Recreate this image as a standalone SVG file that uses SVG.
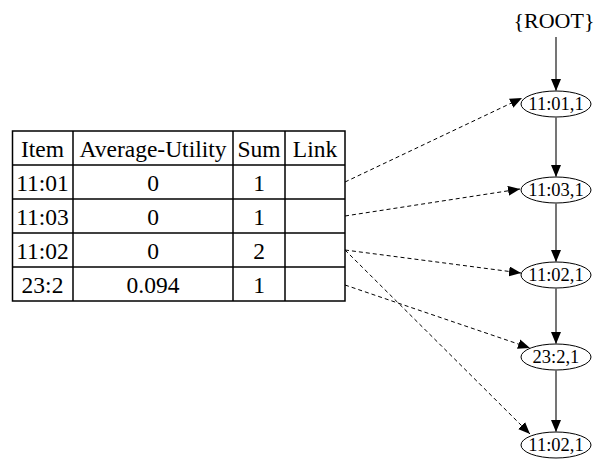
<svg xmlns="http://www.w3.org/2000/svg" width="596" height="461" viewBox="0 0 596 461">
<style>
text{font-family:"Liberation Serif","Times New Roman",serif;fill:#000;text-anchor:middle}
.t{font-size:23.5px}
.n{font-size:18.5px}
.r{font-size:22px}
.node{fill:#fff;stroke:#000;stroke-width:1}
.tree{stroke:#666;stroke-width:1.8;fill:none}
.link{stroke:#000;stroke-width:1;stroke-dasharray:4,3;fill:none}
</style>
<defs>
<marker id="ah" markerWidth="12" markerHeight="10" refX="12" refY="5" orient="auto" markerUnits="userSpaceOnUse">
<path d="M0,0 L12,5 L0,10 Z" fill="#000"/>
</marker>
</defs>
<g id="table">
<rect x="12.5" y="131" width="332.5" height="170" fill="#fff" stroke="#000" stroke-width="1.5"/>
<g stroke="#000" stroke-width="1.5">
<line x1="12.5" y1="165" x2="345" y2="165"/>
<line x1="12.5" y1="199" x2="345" y2="199"/>
<line x1="12.5" y1="233" x2="345" y2="233"/>
<line x1="12.5" y1="267" x2="345" y2="267"/>
<line x1="73" y1="131" x2="73" y2="301"/>
<line x1="233" y1="131" x2="233" y2="301"/>
<line x1="285" y1="131" x2="285" y2="301"/>
</g>
<text class="t" x="42.5" y="157">Item</text>
<text class="t" x="153" y="157">Average-Utility</text>
<text class="t" x="259" y="157">Sum</text>
<text class="t" x="315" y="157">Link</text>
<text class="t" x="42.5" y="191">11:01</text>
<text class="t" x="153" y="191">0</text>
<text class="t" x="259" y="191">1</text>
<text class="t" x="42.5" y="225">11:03</text>
<text class="t" x="153" y="225">0</text>
<text class="t" x="259" y="225">1</text>
<text class="t" x="42.5" y="259">11:02</text>
<text class="t" x="153" y="259">0</text>
<text class="t" x="259" y="259">2</text>
<text class="t" x="42.5" y="293">23:2</text>
<text class="t" x="153" y="293">0.094</text>
<text class="t" x="259" y="293">1</text>
</g>
<g id="root"><text class="r" x="554" y="28">{ROOT}</text></g>
<g id="n1"><ellipse class="node" cx="556" cy="104" rx="35" ry="13"/><text class="n" x="556" y="110">11:01,1</text></g>
<g id="n2"><ellipse class="node" cx="556" cy="190" rx="35" ry="13"/><text class="n" x="556" y="196">11:03,1</text></g>
<g id="n3"><ellipse class="node" cx="556" cy="275" rx="35" ry="13"/><text class="n" x="556" y="281">11:02,1</text></g>
<g id="n4"><ellipse class="node" cx="556" cy="357" rx="35" ry="13"/><text class="n" x="556" y="363">23:2,1</text></g>
<g id="n5"><ellipse class="node" cx="556" cy="445" rx="35" ry="13"/><text class="n" x="556" y="451">11:02,1</text></g>
<g id="connectors">
<line class="tree" x1="556" y1="37" x2="556" y2="91" marker-end="url(#ah)"/>
<line class="tree" x1="556" y1="117" x2="556" y2="177" marker-end="url(#ah)"/>
<line class="tree" x1="556" y1="203" x2="556" y2="262" marker-end="url(#ah)"/>
<line class="tree" x1="556" y1="288" x2="556" y2="344" marker-end="url(#ah)"/>
<line class="tree" x1="556" y1="370" x2="556" y2="432" marker-end="url(#ah)"/>
<line class="link" x1="345" y1="182" x2="522" y2="98" marker-end="url(#ah)"/>
<line class="link" x1="345" y1="216" x2="520" y2="189" marker-end="url(#ah)"/>
<line class="link" x1="345" y1="250" x2="521" y2="273" marker-end="url(#ah)"/>
<line class="link" x1="345" y1="250" x2="530" y2="434" marker-end="url(#ah)"/>
<line class="link" x1="345" y1="285" x2="530" y2="348" marker-end="url(#ah)"/>
</g>
</svg>
